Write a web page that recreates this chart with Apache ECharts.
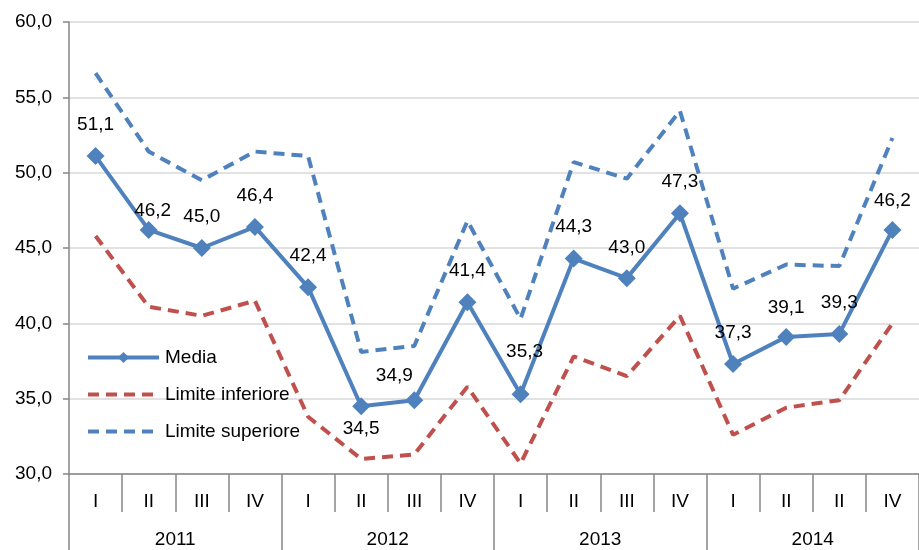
<!DOCTYPE html>
<html>
<head>
<meta charset="utf-8">
<script src="https://cdn.jsdelivr.net/npm/echarts@6/dist/echarts.min.js"></script>
<style>
  html, body { margin: 0; padding: 0; background: #fff; }
  #chart { width: 919px; height: 550px; }
</style>
</head>
<body>
<div id="chart"></div>
<script>
// Quarterly index with confidence bounds, 2011-2014
const quarters = ['I', 'II', 'III', 'IV', 'I', 'II', 'III', 'IV', 'I', 'II', 'III', 'IV', 'I', 'II', 'II', 'IV'];
const years = ['2011', '2012', '2013', '2014'];
const media = [51.1, 46.2, 45.0, 46.4, 42.4, 34.5, 34.9, 41.4, 35.3, 44.3, 43.0, 47.3, 37.3, 39.1, 39.3, 46.2];
const limiteInferiore = [45.8, 41.1, 40.5, 41.5, 33.8, 31.0, 31.3, 35.8, 30.7, 37.8, 36.5, 40.5, 32.6, 34.4, 34.9, 40.0];
const limiteSuperiore = [56.6, 51.4, 49.5, 51.4, 51.1, 38.1, 38.5, 46.8, 40.3, 50.7, 49.6, 54.1, 42.3, 43.9, 43.8, 52.3];
const yTicks = { min: 30, max: 60, step: 5 };

const BLUE = '#4F81BD';
const RED = '#C0504D';
const AXIS = '#868686';
const FONT = 'Liberation Sans, Arial, sans-serif';
const FS = 19;
const DASH = [11, 7];

const fmt = v => v.toFixed(1).replace('.', ',');

// label placement tweaks for crowded points (index -> label options)
const labelTweaks = {
  1: { distance: 1, offset: [4, 0] },
  5: { position: 'bottom', distance: 4 },
  6: { distance: 6, offset: [-20, 0] },
  8: { distance: 24, offset: [4, 0] },
  10: { distance: 12 },
  13: { distance: 11 },
  15: { distance: 11 }
};

const mediaData = media.map((v, i) => {
  const item = { value: v };
  if (labelTweaks[i]) item.label = labelTweaks[i];
  return item;
});

const chart = echarts.init(document.getElementById('chart'), null, { renderer: 'canvas' });

chart.setOption({
  animation: false,
  backgroundColor: '#fff',
  textStyle: { fontFamily: FONT },
  grid: { left: 69, top: 22, width: 854, height: 452, containLabel: false },
  legend: {
    orient: 'vertical',
    left: 86,
    top: 348,
    padding: 0,
    itemWidth: 71,
    itemHeight: 14,
    itemGap: 18,
    textStyle: { fontFamily: FONT, fontSize: FS, color: '#000', padding: [0, 0, 0, 1] },
    lineStyle: { width: 4 },
    data: [
      { name: 'Media' },
      { name: 'Limite inferiore', itemStyle: { opacity: 0 } },
      { name: 'Limite superiore', itemStyle: { opacity: 0 } }
    ]
  },
  xAxis: [
    {
      type: 'category',
      data: quarters,
      boundaryGap: true,
      axisLine: { onZero: false, lineStyle: { color: AXIS, width: 1.5 } },
      axisTick: { show: true, interval: 0, length: 38, lineStyle: { color: AXIS, width: 1.5 } },
      axisLabel: { interval: 0, margin: 18, fontSize: FS, color: '#000', fontFamily: FONT },
      splitLine: { show: false }
    },
    {
      type: 'category',
      data: years,
      position: 'bottom',
      offset: 0,
      boundaryGap: true,
      axisLine: { show: false, onZero: false },
      axisTick: { show: true, interval: 0, length: 82, lineStyle: { color: AXIS, width: 1.5 } },
      axisLabel: { interval: 0, margin: 56, fontSize: FS, color: '#000', fontFamily: FONT },
      splitLine: { show: false }
    }
  ],
  yAxis: {
    type: 'value',
    min: yTicks.min,
    max: yTicks.max,
    interval: yTicks.step,
    axisLine: { show: true, lineStyle: { color: AXIS, width: 1.5 } },
    axisTick: { show: true, length: 6, lineStyle: { color: AXIS, width: 1.5 } },
    axisLabel: { margin: 17, fontSize: FS, color: '#000', fontFamily: FONT, formatter: v => fmt(v) },
    splitLine: { show: true, lineStyle: { color: '#D9D9D9', width: 1.5 } }
  },
  series: [
    {
      name: 'Limite superiore',
      type: 'line',
      xAxisIndex: 0,
      data: limiteSuperiore,
      symbol: 'none',
      z: 2,
      lineStyle: { color: BLUE, width: 4, type: DASH },
      itemStyle: { color: BLUE }
    },
    {
      name: 'Limite inferiore',
      type: 'line',
      xAxisIndex: 0,
      data: limiteInferiore,
      symbol: 'none',
      z: 2,
      lineStyle: { color: RED, width: 4, type: DASH },
      itemStyle: { color: RED }
    },
    {
      name: 'Media',
      type: 'line',
      xAxisIndex: 0,
      data: mediaData,
      symbol: 'diamond',
      symbolSize: 18,
      z: 3,
      lineStyle: { color: BLUE, width: 4 },
      itemStyle: { color: BLUE },
      label: {
        show: true,
        position: 'top',
        distance: 13,
        fontSize: FS,
        color: '#000',
        fontFamily: FONT,
        formatter: p => fmt(p.value)
      }
    }
  ]
});
</script>
</body>
</html>
